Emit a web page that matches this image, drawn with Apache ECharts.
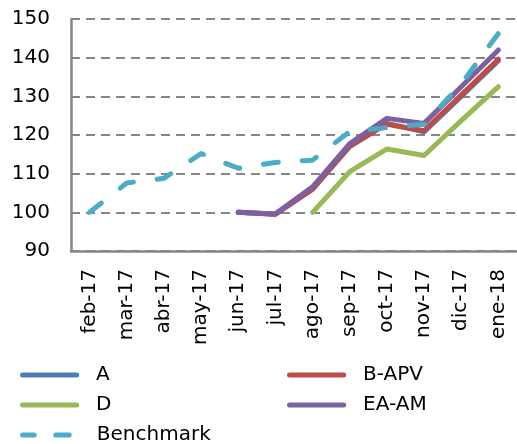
<!DOCTYPE html>
<html>
<head>
<meta charset="utf-8">
<script src="https://cdn.jsdelivr.net/npm/echarts@6/dist/echarts.min.js"></script>
<style>
  html, body { margin: 0; padding: 0; background: #fff; }
  #chart { width: 517px; height: 444px; }
</style>
</head>
<body>
<div id="chart"></div>
<script>
  var months = ['feb-17', 'mar-17', 'abr-17', 'may-17', 'jun-17', 'jul-17',
    'ago-17', 'sep-17', 'oct-17', 'nov-17', 'dic-17', 'ene-18']
  var serieA = [null, null, null, null, 100, 99.5, 106, 117, 123, 120.8, 130, 139.2]
  var serieBAPV = [null, null, null, null, 100, 99.5, 106, 117.2, 122.8, 121.1, 130.3, 139.6]
  var serieD = [null, null, null, null, null, null, 100, 110.5, 116.4, 114.7, 123.7, 132.5]
  var serieEAAM = [null, null, null, null, 100, 99.6, 106.6, 117.8, 124.3, 123, 132.5, 142]
  var benchmark = [100, 107.6, 108.8, 115.2, 111.4, 112.9, 113.5, 120.9, 121.9, 122.8, 133.2, 146.3]
  var yTicks = { min: 90, max: 150, interval: 10 }

  var font = 'DejaVu Sans, Verdana, sans-serif'
  var gris = '#868686'
  // iconos de la leyenda: barra redondeada y dos trazos
  var iconoLinea = 'path://M3,0h65a3,3 0 0 1 0,6h-65a3,3 0 0 1 0,-6z'
  var iconoTrazos = 'path://M3,0h14a3,3 0 0 1 0,6h-14a3,3 0 0 1 0,-6z M43,0h16a3,3 0 0 1 0,6h-16a3,3 0 0 1 0,-6z'

  function linea(name, data, color, dashed) {
    return {
      name: name,
      type: 'line',
      data: data,
      symbol: 'none',
      connectNulls: false,
      lineStyle: {
        color: color,
        width: 5,
        type: dashed ? [15, 24] : 'solid',
        cap: 'round',
        join: 'round'
      },
      itemStyle: { color: color },
      animation: false
    }
  }

  function leyenda(name, left, top, dashed) {
    return {
      data: [{ name: name, icon: dashed ? iconoTrazos : iconoLinea }],
      left: left,
      top: top,
      itemWidth: dashed ? 62 : 71,
      itemHeight: 5,
      itemGap: 0,
      itemStyle: { borderWidth: 0 },
      lineStyle: { width: 0 },
      textStyle: {
        fontFamily: font, fontSize: 20, color: '#000',
        padding: [0, 0, 0, dashed ? 15 : 6]
      },
      selectedMode: false
    }
  }

  var chart = echarts.init(document.getElementById('chart'))
  chart.setOption({
    backgroundColor: '#fff',
    grid: { left: 71, top: 19, right: -10, bottom: 193 },
    legend: [
      leyenda('A', 15, 360),
      leyenda('B-APV', 282, 360),
      leyenda('D', 15, 390),
      leyenda('EA-AM', 282, 390),
      leyenda('Benchmark', 15, 420, true)
    ],
    xAxis: {
      type: 'category',
      data: months,
      boundaryGap: true,
      axisLine: { show: true, lineStyle: { color: gris, width: 2.5 } },
      axisTick: { show: false },
      axisLabel: {
        rotate: 90,
        margin: 18,
        interval: 0,
        fontFamily: font,
        fontSize: 20,
        color: '#000'
      }
    },
    yAxis: {
      type: 'value',
      min: yTicks.min,
      max: yTicks.max,
      interval: yTicks.interval,
      axisLine: { show: true, lineStyle: { color: gris, width: 2.5 } },
      axisTick: { show: false },
      axisLabel: { margin: 21, fontFamily: font, fontSize: 20, color: '#000' },
      splitLine: { show: true, lineStyle: { color: gris, width: 2, type: [9, 6] } }
    },
    series: [
      linea('A', serieA, '#4a7ebb'),
      linea('B-APV', serieBAPV, '#be4b48'),
      linea('D', serieD, '#98b954'),
      linea('EA-AM', serieEAAM, '#7d60a0'),
      linea('Benchmark', benchmark, '#4bacc6', true)
    ]
  })
</script>
</body>
</html>
